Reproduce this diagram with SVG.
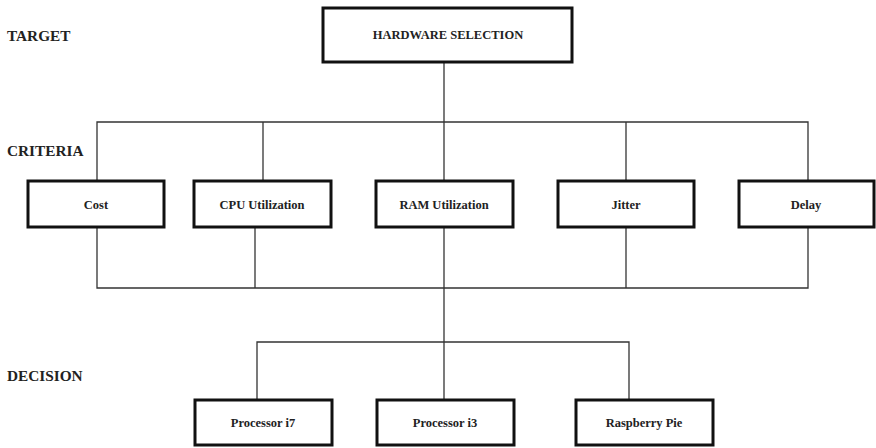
<svg xmlns="http://www.w3.org/2000/svg" width="876" height="448" viewBox="0 0 876 448">
  <style>
    .box { fill: #ffffff; stroke: #111111; stroke-width: 3; }
    .wire { fill: none; stroke: #333333; stroke-width: 1.3; }
    .lvl { font-family: "Liberation Serif", "Times New Roman", serif; font-weight: bold; font-size: 15.3px; fill: #222222; }
    .lbl { font-family: "Liberation Serif", "Times New Roman", serif; font-weight: bold; font-size: 12.5px; fill: #222222; text-anchor: middle; dominant-baseline: central; }
  </style>
  <rect width="876" height="448" fill="#ffffff"/>

  <!-- level labels -->
  <text class="lvl" x="7" y="41">TARGET</text>
  <text class="lvl" x="7" y="156">CRITERIA</text>
  <text class="lvl" x="7" y="381">DECISION</text>

  <!-- connectors -->
  <g id="connectors">
    <path class="wire" d="M444 62 V181"/>
    <path class="wire" d="M97 181 V122 H808 V181"/>
    <path class="wire" d="M263 122 V181"/>
    <path class="wire" d="M626 122 V181"/>
    <path class="wire" d="M97 227 V288 H808 V227"/>
    <path class="wire" d="M255 227 V288"/>
    <path class="wire" d="M626 227 V288"/>
    <path class="wire" d="M444 227 V400"/>
    <path class="wire" d="M257 400 V342 H629 V400"/>
  </g>

  <g id="hardware-selection">
    <rect class="box" x="323" y="8" width="249" height="54"/>
    <text class="lbl" x="448" y="35">HARDWARE SELECTION</text>
  </g>

  <g id="cost">
    <rect class="box" x="28" y="181" width="136" height="46"/>
    <text class="lbl" x="96" y="205">Cost</text>
  </g>
  <g id="cpu-utilization">
    <rect class="box" x="194" y="181" width="137" height="46"/>
    <text class="lbl" x="262" y="205">CPU Utilization</text>
  </g>
  <g id="ram-utilization">
    <rect class="box" x="376" y="181" width="137" height="46"/>
    <text class="lbl" x="444" y="205">RAM Utilization</text>
  </g>
  <g id="jitter">
    <rect class="box" x="558" y="181" width="136" height="46"/>
    <text class="lbl" x="626" y="205">Jitter</text>
  </g>
  <g id="delay">
    <rect class="box" x="739" y="181" width="135" height="46"/>
    <text class="lbl" x="806" y="205">Delay</text>
  </g>

  <g id="processor-i7">
    <rect class="box" x="195" y="400" width="137" height="45"/>
    <text class="lbl" x="263" y="423">Processor i7</text>
  </g>
  <g id="processor-i3">
    <rect class="box" x="377" y="400" width="137" height="45"/>
    <text class="lbl" x="445" y="423">Processor i3</text>
  </g>
  <g id="raspberry-pie">
    <rect class="box" x="576" y="400" width="137" height="45"/>
    <text class="lbl" x="644" y="423">Raspberry Pie</text>
  </g>
</svg>
